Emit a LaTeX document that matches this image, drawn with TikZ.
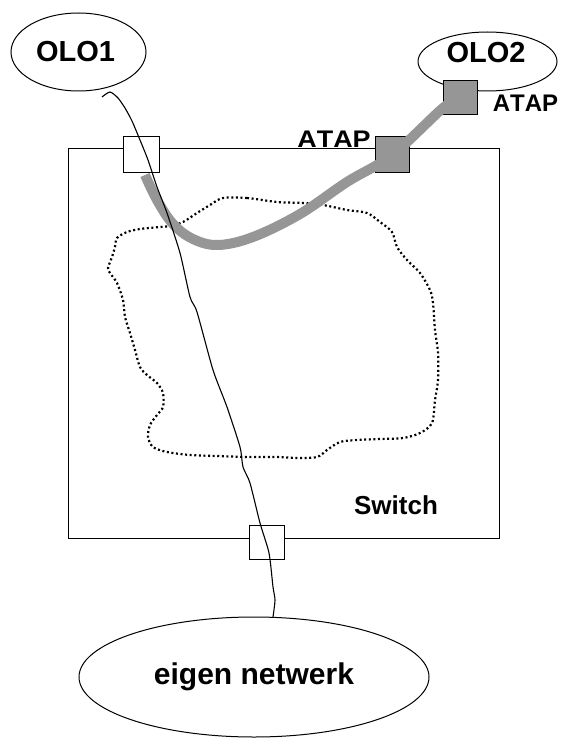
\documentclass[tikz,border=0pt]{standalone}
\usepackage{fontspec}
\setmainfont{Liberation Sans}
\usetikzlibrary{shapes.geometric,calc}
\definecolor{atapgray}{RGB}{150,150,150}
\begin{document}
\begin{tikzpicture}[x=1pt,y=-1pt,
  cloudnode/.style={draw,ellipse,line width=1pt,inner sep=0pt,font=\fontsize{29}{31}\selectfont\bfseries},
  portbox/.style={draw,line width=1pt,fill=white,inner sep=0pt},
  atapbox/.style={draw,line width=1pt,fill=atapgray,inner sep=0pt},
  lbl/.style={inner sep=0pt,font=\fontsize{24}{26}\selectfont\bfseries\addfontfeatures{Kerning=Off}},
  wire/.style={line width=1.1pt,line join=round},
  atapline/.style={line width=10pt,draw=atapgray,line join=round},
  netcloud/.style={line width=2.2pt,dash pattern=on 2pt off 2.6pt}]
\useasboundingbox (0,0) rectangle (564,738);
% ellipses
\node[cloudnode,minimum width=135pt,minimum height=78pt] (olo1) at (78.5,52) {\hspace*{-6pt}OLO1};
\node[cloudnode,minimum width=139pt,minimum height=59pt] (olo2) at (487.5,61.5) {};
\node[inner sep=0pt,font=\fontsize{29}{31}\selectfont\bfseries] (olo2t) at (486,53) {OLO2};
\node[cloudnode,minimum width=350pt,minimum height=120pt,font=\fontsize{30}{32}\selectfont\bfseries] (eigen) at (254,677) {\raisebox{-3pt}{eigen netwerk}};
% switch
\node[draw,line width=1pt,minimum width=431pt,minimum height=389pt,inner sep=0pt] (switch) at (283.5,343.5) {};
\node[inner sep=0pt,font=\fontsize{26}{28}\selectfont\bfseries] (switcht) at (396,505) {Switch};
% network cloud
\draw[netcloud] plot[smooth cycle,tension=0.5] coordinates {
(223,198) (247,198) (277,202) (303,203) (323,205) (347,210) (367,213) (380,222)
(392,232) (397,247) (407,260) (420,273) (430,290) (433,303) (435,330) (438,353)
(438,380) (435,400) (432,423) (420,433) (403,438) (380,439) (357,440) (340,442)
(327,450) (317,457) (297,458) (277,457) (247,457) (217,456) (190,455) (167,452)
(153,447) (148,437) (150,425) (157,415) (163,407) (163,393) (157,383) (147,375)
(140,367) (135,350) (130,333) (125,317) (123,300) (117,283) (110,273) (108,268)
(112,257) (115,247) (117,238) (127,232) (140,229) (160,227) (170,226) (183,222)
(197,213) (210,205)};
% ports
\node[portbox,minimum width=36pt,minimum height=36pt] (p1) at (141,155) {};
\node[portbox,minimum width=35pt,minimum height=34pt] (p2) at (266.5,542) {};
\node[atapbox,minimum width=34pt,minimum height=36pt] (a1) at (392,155) {};
\node[atapbox,minimum width=34pt,minimum height=34pt] (a2) at (460,98) {};
\node[lbl] (a1t) at (334,139) {\scalebox{1.12}[1]{ATAP}};
\node[lbl] (a2t) at (525.5,103.5) {ATAP};
% gray ATAP line
\coordinate (g0) at ($(p1.south)+(4,1.5)$);
\draw[atapline] plot[smooth,tension=0.6] coordinates {
(g0) (157,200) (173,224) (193,239) (218,245) (253,237) (300,214) (347,182) (a1.center) (443,108) (a2.center)};
% black wire
\coordinate (w0) at (102,97);
\coordinate (w1) at (273,617);
\draw[wire] plot[smooth,tension=0.4] coordinates {
(w0) (110,92) (118,98) (125,108) (132,121) (140,140) (148,160) (157,187)
(167,213) (180,253) (190,297) (197,312) (213,370) (227,407) (240,447) (243,467)
(250,483) (260,523) (269,553) (273,587) (275,600) (w1)};
\end{tikzpicture}
\end{document}
